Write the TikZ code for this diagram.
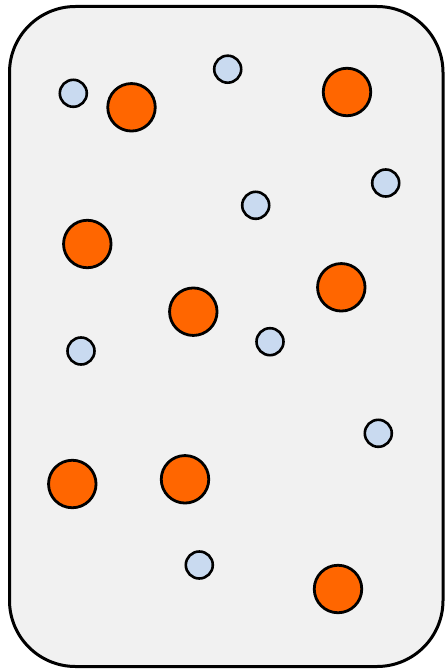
\documentclass[tikz,border=0pt]{standalone}
\begin{document}
\begin{tikzpicture}[x=1pt,y=-1pt,
  bigdot/.style={circle,draw=black,line width=2.8pt,fill={rgb,255:red,255;green,102;blue,0},minimum size=47.5pt,inner sep=0pt},
  smalldot/.style={circle,draw=black,line width=2.6pt,fill={rgb,255:red,201;green,218;blue,240},minimum size=27pt,inner sep=0pt},
  box/.style={draw=black,line width=3pt,fill={rgb,255:red,241;green,241;blue,241},rounded corners=66pt}]
\useasboundingbox (0,0) rectangle (446,671);
\draw[box] (9.5,6.5) rectangle (443,666.5);
% orange
\node[bigdot] (o1) at (131.5,107.3) {};
\node[bigdot] (o2) at (347,92) {};
\node[bigdot] (o3) at (87.3,244) {};
\node[bigdot] (o4) at (193.3,311.7) {};
\node[bigdot] (o5) at (341.3,287.3) {};
\node[bigdot] (o6) at (72.3,484) {};
\node[bigdot] (o7) at (185,479.3) {};
\node[bigdot] (o8) at (338,589) {};
% blue
\node[smalldot] (b1) at (73.3,93.3) {};
\node[smalldot] (b2) at (227.7,69.2) {};
\node[smalldot] (b3) at (385.7,183) {};
\node[smalldot] (b4) at (255.7,205.3) {};
\node[smalldot] (b5) at (81,351) {};
\node[smalldot] (b6) at (270,341.7) {};
\node[smalldot] (b7) at (378.3,433.3) {};
\node[smalldot] (b8) at (199.3,565) {};
\end{tikzpicture}
\end{document}
